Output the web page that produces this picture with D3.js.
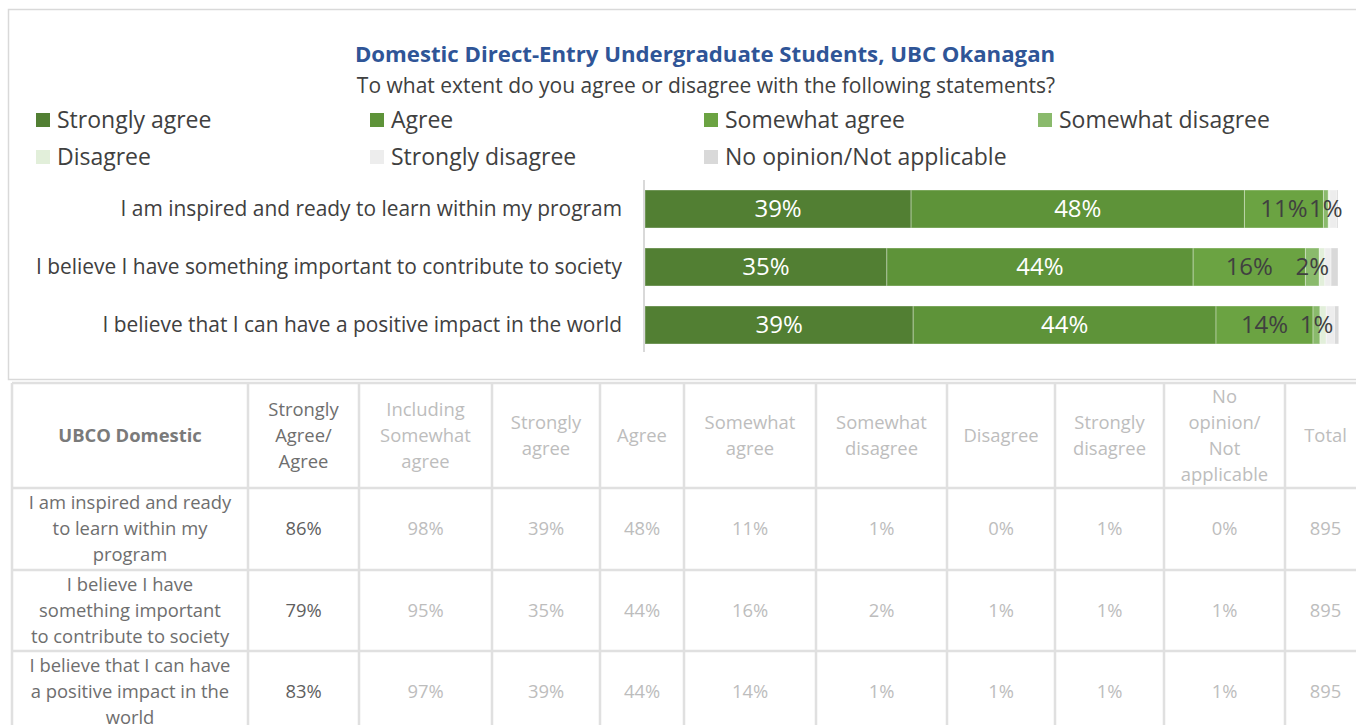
<!DOCTYPE html>
<html><head><meta charset="utf-8">
<script src="https://cdn.jsdelivr.net/npm/d3@7"></script>
<style>
html,body{margin:0;padding:0;background:#fff;}
svg{display:block;font-family:"Open Sans",Lato,sans-serif;}
</style></head>
<body>
<svg id="c" width="1356" height="725"></svg>
<script>
// ---------- DATA ----------
const title = "Domestic Direct-Entry Undergraduate Students, UBC Okanagan";
const subtitle = "To what extent do you agree or disagree with the following statements?";
const seriesNames = ["Strongly agree","Agree","Somewhat agree","Somewhat disagree","Disagree","Strongly disagree","No opinion/Not applicable"];
const seriesColors = ["#527f33","#5e9339","#6ba342","#8aba6c","#e2efda","#ededed","#d9d9d9"];
const categories = [
  "I am inspired and ready to learn within my program",
  "I believe I have something important to contribute to society",
  "I believe that I can have a positive impact in the world"
];
// bar shares (percent)
const sharesInspired = [38.4, 48.1, 11.4, 0.7, 0.2, 1.0, 0.2];
const sharesContribute = [34.9, 44.2, 16.2, 2.0, 0.8, 0.9, 1.0];
const sharesImpact = [38.7, 43.7, 14.0, 1.0, 0.9, 1.2, 0.6];
// table (rounded percentages)
const pctInspired = [39, 48, 11, 1, 0, 1, 0];
const pctContribute = [35, 44, 16, 2, 1, 1, 1];
const pctImpact = [39, 44, 14, 1, 1, 1, 1];
const stronglyAgreeAgree = [86, 79, 83];
const includingSomewhat = [98, 95, 97];
const totals = [895, 895, 895];
const labelledSeries = 4; // bar labels shown for first four series

const rowLabelLines = [
  ["I am inspired and ready","to learn within my","program"],
  ["I believe I have","something important","to contribute to society"],
  ["I believe that I can have","a positive impact in the","world"]
];
const headerLines = [
  ["UBCO Domestic"],
  ["Strongly","Agree/","Agree"],
  ["Including","Somewhat","agree"],
  ["Strongly","agree"],
  ["Agree"],
  ["Somewhat","agree"],
  ["Somewhat","disagree"],
  ["Disagree"],
  ["Strongly","disagree"],
  ["No","opinion/","Not","applicable"],
  ["Total"]
];

const shares = [sharesInspired, sharesContribute, sharesImpact];
const pcts = [pctInspired, pctContribute, pctImpact];

// ---------- CHART ----------
const svg = d3.select("#c");

svg.append("rect").attr("x",8.5).attr("y",9.5).attr("width",1360).attr("height",370)
  .attr("fill","#fff").attr("stroke","#d9d9d9").attr("stroke-width",1.5);

svg.append("text").attr("x",705).attr("y",62).attr("text-anchor","middle")
  .attr("font-size",22.2).attr("font-weight","bold").attr("fill","#2f5597").text(title);
svg.append("text").attr("x",706).attr("y",93).attr("text-anchor","middle")
  .attr("font-size",21).attr("fill","#404040").text(subtitle);

// legend
const legX = d3.scalePoint().domain(d3.range(4)).range([36,1038]);
const leg = svg.append("g").selectAll("g").data(seriesNames).join("g")
  .attr("transform",(d,i)=>`translate(${legX(i%4)},${i<4?120:157})`);
leg.append("rect").attr("x",0).attr("y",-7).attr("width",14).attr("height",14)
  .attr("fill",(d,i)=>seriesColors[i]);
leg.append("text").attr("x",21).attr("y",0).attr("dy","0.35em")
  .attr("font-size",23).attr("fill","#404040").text(d=>d);

// scales
const x = d3.scaleLinear().domain([0,100]).range([645,1338]);
const y = d3.scaleBand().domain(categories).range([180,354]).paddingInner(0.345).paddingOuter(0.1725);

const rows = categories.map((c,ci)=>{
  let acc = 0;
  return shares[ci].map((v,si)=>{ const s={cat:c,ci,si,x0:acc,x1:acc+v,label:pcts[ci][si]}; acc+=v; return s; });
});

const barG = svg.append("g");
barG.selectAll("g").data(rows).join("g").selectAll("rect").data(d=>d).join("rect")
  .attr("x",d=>x(d.x0)).attr("y",d=>y(d.cat))
  .attr("width",d=>x(d.x1)-x(d.x0)).attr("height",y.bandwidth())
  .attr("fill",d=>seriesColors[d.si]).attr("stroke","rgba(255,255,255,0.35)").attr("stroke-width",1);

barG.selectAll("g.lbl").data(rows).join("g").attr("class","lbl").selectAll("text")
  .data(d=>d.filter(s=>s.si<labelledSeries)).join("text")
  .attr("x",d=>(x(d.x0)+x(d.x1))/2).attr("y",d=>y(d.cat)+y.bandwidth()/2).attr("dy","0.35em")
  .attr("text-anchor","middle").attr("font-size",24)
  .attr("fill",d=>d.si<2?"#ffffff":"#404040").text(d=>d.label+"%");

// category axis
const yAxis = d3.axisLeft(y).tickSize(0).tickPadding(22);
const ag = svg.append("g").attr("transform","translate(644,0)").call(yAxis);
ag.select(".domain").attr("d","M0,180V352").attr("stroke","#d9d9d9").attr("stroke-width",2);
ag.selectAll(".tick text").attr("font-size",20.9).attr("fill","#404040").attr("font-family","'Open Sans',Lato,sans-serif");

// ---------- TABLE ----------
const colEdges = [12,248,359,492,600,684,816,947,1055,1164,1285,1366];
const rowEdges = [383,488,570,651,733];
const tg = svg.append("g");
const lh = 26;

function cellText(cx, cy, lines, opts){
  const t = tg.append("text").attr("text-anchor","middle").attr("font-size",18.4)
    .attr("fill",opts.fill).attr("font-weight",opts.bold?"bold":"normal");
  const n = lines.length;
  lines.forEach((l,i)=>{
    t.append("tspan").attr("x",cx).attr("y",cy+(i-(n-1)/2)*lh).attr("dy","0.35em").text(l);
  });
}
const mid = i => (colEdges[i]+colEdges[i+1])/2;
const rmid = r => (rowEdges[r]+rowEdges[r+1])/2;

headerLines.forEach((lines,i)=>{
  cellText(mid(i), rmid(0), lines, {fill: i===0?"#7a7a7a":(i===1?"#6e6e6e":"#bdbdbd"), bold:i===0});
});
categories.forEach((c,ri)=>{
  const cy = rmid(ri+1);
  cellText(mid(0), cy, rowLabelLines[ri], {fill:"#6e6e6e"});
  cellText(mid(1), cy, [stronglyAgreeAgree[ri]+"%"], {fill:"#5f5f5f"});
  cellText(mid(2), cy, [includingSomewhat[ri]+"%"], {fill:"#bdbdbd"});
  pcts[ri].forEach((v,si)=>cellText(mid(3+si), cy, [v+"%"], {fill:"#bdbdbd"}));
  cellText(mid(10), cy, [String(totals[ri])], {fill:"#bdbdbd"});
});

tg.selectAll("line.v").data(colEdges).join("line").attr("class","v")
  .attr("x1",d=>d).attr("x2",d=>d).attr("y1",rowEdges[0]).attr("y2",733)
  .attr("stroke","#e0e0e0").attr("stroke-width",2.5);
tg.selectAll("line.h").data(rowEdges).join("line").attr("class","h")
  .attr("x1",colEdges[0]).attr("x2",1366).attr("y1",d=>d).attr("y2",d=>d)
  .attr("stroke","#e0e0e0").attr("stroke-width",2.5);
</script>
</body></html>
